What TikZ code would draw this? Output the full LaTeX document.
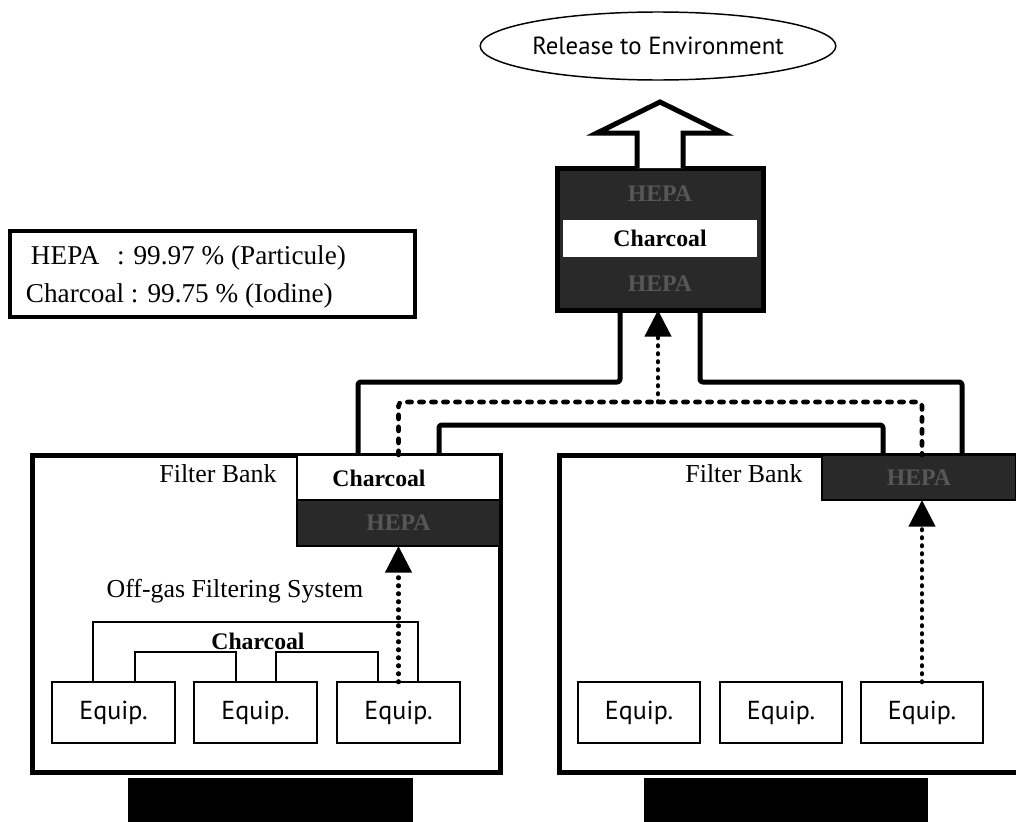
\documentclass[tikz,border=0pt]{standalone}
\usepackage{fontspec}
\setmainfont{Liberation Serif}
\newfontfamily\optfont{PT Sans}
\usetikzlibrary{arrows.meta,calc,shapes.geometric}
\begin{document}
\begin{tikzpicture}[x=0.75pt,y=-0.75pt,
  every node/.style={inner sep=0pt, outer sep=0pt},
  txt/.style={font=\fontsize{19.4}{23}\selectfont},
  ltxt/.style={font=\fontsize{20.4}{24}\selectfont},
  btxt/.style={font=\fontsize{17.8}{22}\selectfont\bfseries},
  stxt/.style={font=\fontsize{19.5}{23}\selectfont\optfont},
  rtxt/.style={font=\fontsize{18.6}{22}\selectfont\optfont},
  bank/.style={draw=black, line width=3.75pt, fill=white},
  thinbox/.style={draw=black, line width=1.4pt, fill=white},
  hepaband/.style={draw=black, line width=1pt, fill=black!84, text=black!66, font=\fontsize{17.8}{22}\selectfont\bfseries},
  equip/.style={thinbox, minimum width=92pt, minimum height=45.75pt, stxt},
  pipe/.style={line width=3.75pt, line join=round},
  flowloop/.style={line width=3.4pt, line cap=round, dash pattern=on 3.2pt off 5.8pt},
  flowdot/.style={line width=3.4pt, line cap=round, dash pattern=on 0.4pt off 5.6pt,
    -{Triangle[width=19.5pt,length=20pt]}},
  bracket/.style={line width=1.4pt},
  darkbar/.style={fill=black, draw=none},
]
\useasboundingbox (0,0) rectangle (1016,821);
\clip (0,0) rectangle (1016,821);
\fill[white] (0,0) rectangle (1016,821);

% release
\node[draw=black, line width=1.1pt, ellipse, minimum width=264pt, minimum height=51pt, rtxt] (env) at (658,46) {Release to Environment};

% top filter stack
\node[draw=black, line width=3.75pt, fill=black!84, minimum width=154.5pt, minimum height=106.5pt] (stack) at (660,239) {};
\node[fill=white, minimum width=145.5pt, minimum height=27.75pt, btxt] (stackC) at (660,238.5) {Charcoal};
\node[text=black!66, btxt] (stackH1) at (660,194) {HEPA};
\node[text=black!66, btxt] (stackH2) at (660,284) {HEPA};

% big hollow arrow
\draw[pipe, fill=white, line join=miter]
  ($(stack.north)+(-23,0)$) -- ($(stack.north)+(-23,-35)$) -- ($(stack.north)+(-63,-35)$)
  -- ($(stack.north)+(0,-66)$) -- ($(stack.north)+(63,-35)$) -- ($(stack.north)+(23,-35)$)
  -- ($(stack.north)+(23,0)$);

% legend
\node[draw=black, line width=3pt, minimum width=303.75pt, minimum height=64pt] (legend) at (212.5,274) {};
\node[ltxt, anchor=base west] (lgH) at (31,264) {HEPA};
\node[ltxt, anchor=base west] (lgHv) at (117,264) {: 99.97 \% (Particule)};
\node[ltxt, anchor=base west] (lgC) at (26,302) {Charcoal : 99.75 \% (Iodine)};

% banks
\node[bank, minimum width=351pt, minimum height=237.75pt] (lb) at (266,613.5) {};
\node[bank, minimum width=360.75pt, minimum height=237.75pt] (rb) at (799.5,613.5) {};

\node[thinbox, minimum width=152.25pt, minimum height=33.75pt] (lbC) at (398.5,477.5) {};
\node[btxt] (lbCt) at (379,478) {Charcoal};
\node[hepaband, minimum width=152.25pt, minimum height=34.5pt] (lbH) at (398.5,523) {HEPA};
\node[hepaband, minimum width=145.5pt, minimum height=33.75pt] (rbH) at (919,477.5) {HEPA};

\node[txt] (lbT) at (218,474) {Filter Bank};
\node[txt] (rbT) at (744,474) {Filter Bank};
\node[txt] (offgas) at (235,591) {Off-gas Filtering System};

% equipment
\node[equip] (le1) at (113.5,712.5) {Equip.};
\node[equip] (le2) at (255.5,712.5) {Equip.};
\node[equip] (le3) at (398.5,712.5) {Equip.};
\node[equip] (re1) at (639,712.5) {Equip.};
\node[equip] (re2) at (781,712.5) {Equip.};
\node[equip] (re3) at (922,712.5) {Equip.};

% charcoal brackets
\draw[bracket] ($(le1.north)+(-20.5,0)$) |- ($(le3.north)+(19.5,-60)$) -- ($(le3.north)+(19.5,0)$);
\draw[bracket] ($(le1.north)+(21.5,0)$) |- ($(le2.north)+(-19.5,-30)$) -- ($(le2.north)+(-19.5,0)$);
\draw[bracket] ($(le2.north)+(20.5,0)$) |- ($(le3.north)+(-20.5,-30)$) -- ($(le3.north)+(-20.5,0)$);
\node[btxt] (brC) at (258,641) {Charcoal};

% pipes
\draw[pipe, rounded corners=2pt] ($(lbC.north)+(-40.5,0)$) |- ($(stack.south)+(-40,72)$) -- ($(stack.south)+(-40,0)$);
\draw[pipe, rounded corners=2pt] ($(stack.south)+(40,0)$) -- ($(stack.south)+(40,72)$) -| ($(rbH.north)+(43,0)$);
\draw[pipe, rounded corners=2pt] ($(lbC.north)+(40.5,0)$) |- ($(rbH.north)+(-36,-30)$) -- ($(rbH.north)+(-36,0)$);

% flow paths
\draw[flowloop, rounded corners=3pt] (lbC.north) |- ($(rbH.north)+(3,-53)$) -- ($(rbH.north)+(3,0)$);
\coordinate (junc) at ($(stack.south)+(-2,92)$);
\draw[flowdot] (junc) -- ($(stack.south)+(-2,0)$);
\draw[flowdot] (le3.north) -- (lbH.south);
\draw[flowdot] ($(re3.north)$) -- ($(rbH.south)+(3,0)$);

% bottom bars
\node[darkbar, minimum width=213.75pt, minimum height=39pt] (barL) at (270.5,804) {};
\node[darkbar, minimum width=213pt, minimum height=39pt] (barR) at (786,804) {};
\end{tikzpicture}
\end{document}
